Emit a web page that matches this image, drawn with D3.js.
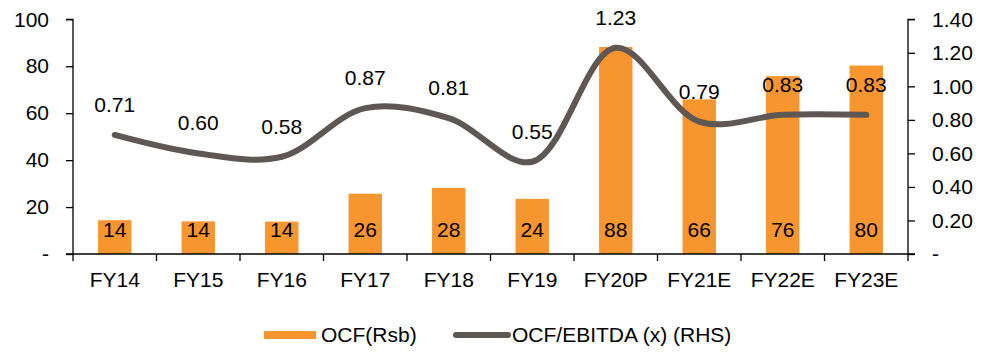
<!DOCTYPE html>
<html>
<head>
<meta charset="utf-8">
<script src="https://cdn.jsdelivr.net/npm/d3@7"></script>
<style>
  html, body { margin: 0; padding: 0; background: #fff; }
  svg text { font-family: "Liberation Sans", Arial, sans-serif; fill: #000; }
</style>
</head>
<body>
<svg id="chart" width="987" height="356"></svg>
<script>
// Operating cash flow (Rs bn) and OCF/EBITDA ratio by fiscal year
const years = ["FY14", "FY15", "FY16", "FY17", "FY18", "FY19", "FY20P", "FY21E", "FY22E", "FY23E"];
const ocf = [14.4, 13.9, 13.8, 25.7, 28.2, 23.5, 88.2, 65.9, 75.8, 80.3];
const ocfToEbitda = [0.71, 0.60, 0.58, 0.87, 0.81, 0.55, 1.23, 0.79, 0.83, 0.83];
const leftTicks = [0, 20, 40, 60, 80, 100];
const rightTicks = [0, 0.2, 0.4, 0.6, 0.8, 1.0, 1.2, 1.4];
const legendLabels = ["OCF(Rsb)", "OCF/EBITDA (x) (RHS)"];

const orange = "#F7962F";
const grey = "#5E5753";

const svg = d3.select("#chart");
const plotLeft = 73, plotRight = 908, plotTop = 19.3, plotBottom = 254;

const x = d3.scaleBand().domain(years).range([plotLeft, plotRight]).paddingInner(0).paddingOuter(0);
const yL = d3.scaleLinear().domain([0, 100]).range([plotBottom, plotTop]);
const yR = d3.scaleLinear().domain([0, 1.4]).range([plotBottom, plotTop]);

const fontSize = 21;

// Bars
svg.append("g").selectAll("rect").data(ocf).join("rect")
  .attr("x", (d, i) => x(years[i]) + x.bandwidth() * 0.3)
  .attr("width", x.bandwidth() * 0.4)
  .attr("y", d => yL(d))
  .attr("height", d => yL(0) - yL(d))
  .attr("fill", orange);

// Bar value labels, near the base of each bar
svg.append("g").selectAll("text").data(ocf).join("text")
  .attr("x", (d, i) => x(years[i]) + x.bandwidth() / 2)
  .attr("y", plotBottom - 17)
  .attr("text-anchor", "middle")
  .attr("font-size", fontSize)
  .text(d => d3.format(".0f")(d));

// Left axis
const axisL = d3.axisLeft(yL).tickValues(leftTicks).tickSize(7)
  .tickFormat(d => d === 0 ? "-" : d3.format("d")(d));
const gL = svg.append("g").attr("transform", `translate(${plotLeft},0)`).call(axisL);
gL.select(".domain").attr("d", `M${-7},${plotTop}H0V${plotBottom}`);

// Right axis
const axisR = d3.axisRight(yR).tickValues(rightTicks).tickSize(7)
  .tickFormat(d => d === 0 ? "-" : d3.format(".2f")(d));
const gR = svg.append("g").attr("transform", `translate(${plotRight},0)`).call(axisR);
gR.select(".domain").attr("d", `M7,${plotTop}H0V${plotBottom}`);

// Bottom axis with ticks between categories
const gB = svg.append("g").attr("transform", `translate(0,${plotBottom})`);
gB.append("line").attr("x1", plotLeft - 7).attr("x2", plotRight + 7).attr("stroke", "#000").attr("stroke-width", 1.3);
gB.selectAll("line.tk").data(d3.range(years.length + 1)).join("line")
  .attr("class", "tk")
  .attr("x1", i => plotLeft + i * x.bandwidth()).attr("x2", i => plotLeft + i * x.bandwidth())
  .attr("y1", 0).attr("y2", 7).attr("stroke", "#000").attr("stroke-width", 1.3);
gB.selectAll("text").data(years).join("text")
  .attr("x", d => x(d) + x.bandwidth() / 2)
  .attr("y", 33)
  .attr("text-anchor", "middle")
  .attr("font-size", fontSize)
  .text(d => d);

[gL, gR].forEach(g => {
  g.select(".domain").attr("stroke", "#000").attr("stroke-width", 1.3);
  g.selectAll(".tick line").attr("stroke", "#000").attr("stroke-width", 1.3);
  g.selectAll(".tick text").attr("font-size", fontSize).attr("font-family", "Liberation Sans, Arial, sans-serif").attr("fill", "#000");
});
gL.selectAll(".tick text").attr("x", -24);
gR.selectAll(".tick text").attr("x", 24);

// Ratio line (smoothed)
const line = d3.line()
  .x((d, i) => x(years[i]) + x.bandwidth() / 2)
  .y(d => yR(d))
  .curve(d3.curveCatmullRom.alpha(0.5));
svg.append("path").datum(ocfToEbitda)
  .attr("d", line)
  .attr("fill", "none")
  .attr("stroke", grey)
  .attr("stroke-width", 6)
  .attr("stroke-linecap", "round");

// Ratio labels above points
svg.append("g").selectAll("text").data(ocfToEbitda).join("text")
  .attr("x", (d, i) => x(years[i]) + x.bandwidth() / 2)
  .attr("y", d => yR(d) - 23)
  .attr("text-anchor", "middle")
  .attr("font-size", fontSize)
  .text(d => d3.format(".2f")(d));

// Legend
const lg = svg.append("g");
lg.append("rect").attr("x", 264).attr("y", 331).attr("width", 52).attr("height", 8).attr("fill", orange);
lg.append("text").attr("x", 321).attr("y", 342).attr("font-size", fontSize).text(legendLabels[0]);
lg.append("line").attr("x1", 456).attr("x2", 508).attr("y1", 335).attr("y2", 335)
  .attr("stroke", grey).attr("stroke-width", 6).attr("stroke-linecap", "round");
lg.append("text").attr("x", 512).attr("y", 342).attr("font-size", fontSize).text(legendLabels[1]);
</script>
</body>
</html>
